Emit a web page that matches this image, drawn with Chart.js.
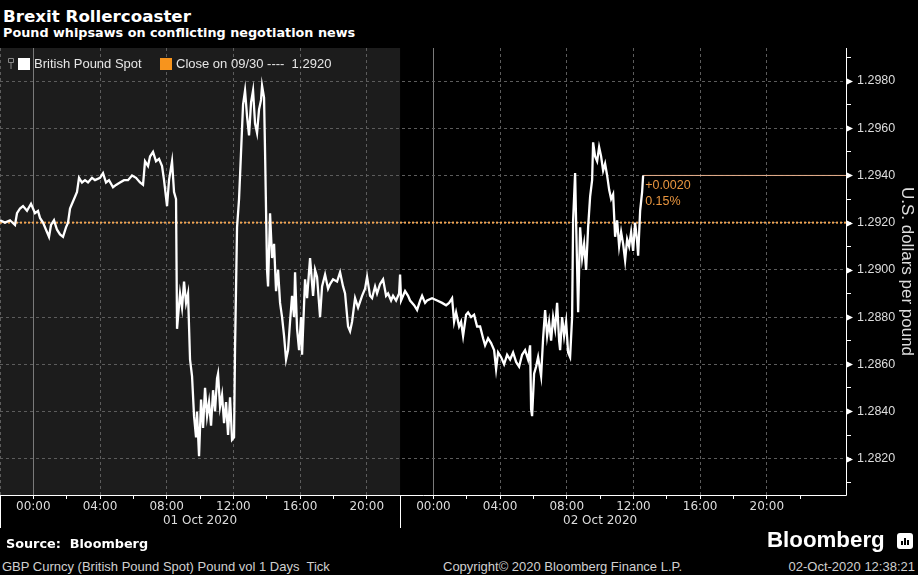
<!DOCTYPE html>
<html lang="en">
<head>
<meta charset="UTF-8">
<title>Brexit Rollercoaster</title>
<script src="https://cdn.jsdelivr.net/npm/chart.js"></script>
<style>
    body {
        margin: 0;
        background: #000;
        width: 918px;
        height: 575px;
        overflow: hidden;
        position: relative;
        color: #ddd;
        font-family: "Liberation Sans", Arial, sans-serif;
    }
    .title {
        position: absolute; left: 3px; top: 6px;
        font: bold 16.7px "DejaVu Sans", sans-serif; color: #fff; white-space: nowrap;
    }
    .subtitle {
        position: absolute; left: 3px; top: 25px;
        font: bold 12.8px "DejaVu Sans", sans-serif; color: #fff; white-space: nowrap;
    }
    #wrap { position: absolute; left: 0; top: 48px; width: 918px; height: 490px; }
    .source {
        position: absolute; left: 6px; top: 536px;
        font: bold 12.8px "DejaVu Sans", sans-serif; color: #fff; white-space: pre;
    }
    .foot {
        position: absolute; top: 559px; font-size: 13px; color: #d0d0d0; white-space: pre;
    }
    .logo {
        position: absolute; left: 767px; top: 527px;
        font: bold 22.3px "Liberation Sans", Arial, sans-serif; color: #fff;
    }
    .logo-icon {
        position: absolute; left: 897px; top: 533px; width: 16px; height: 16px;
        background: #fff; border-radius: 3px;
    }
    .logo-icon span { position: absolute; bottom: 4px; width: 2px; background: #000; }
</style>
</head>
<body>
<div class="title">Brexit Rollercoaster</div>
<div class="subtitle">Pound whipsaws on conflicting negotiation news</div>
<div id="wrap"><canvas id="chart" width="918" height="490"></canvas></div>
<div class="source">Source:  Bloomberg</div>
<div class="foot" style="left:2px">GBP Curncy (British Pound Spot) Pound vol 1 Days  Tick</div>
<div class="foot" style="left:443px">Copyright© 2020 Bloomberg Finance L.P.</div>
<div class="foot" style="right:3px">02-Oct-2020 12:38:21</div>
<div class="logo">Bloomberg</div>
<div class="logo-icon"><span style="left:4px;height:4px"></span><span style="left:7px;height:7px"></span><span style="left:10px;height:5px"></span></div>

<script>
    // hours from 00:00 on 01 Oct 2020 (London), tick prices GBP/USD
    const hours = [
        -2.00, -1.70, -1.40, -1.10, -0.98, -0.80, -0.62, -0.38, -0.14, -0.02,
        0.10, 0.28, 0.40, 0.58, 0.76, 0.94, 1.06, 1.24, 1.42, 1.60,
        1.78, 1.96, 2.08, 2.20, 2.32, 2.50, 2.62, 2.74, 2.92, 3.10,
        3.28, 3.52, 3.70, 4.00, 4.18, 4.36, 4.54, 4.78, 4.96, 5.20,
        5.44, 5.68, 5.92, 6.16, 6.40, 6.58, 6.70, 6.88, 7.00, 7.18,
        7.36, 7.54, 7.72, 7.84, 8.02, 8.14, 8.32, 8.44, 8.56, 8.62,
        8.80, 8.92, 9.04, 9.16, 9.28, 9.40, 9.52, 9.64, 9.76, 9.82,
        9.94, 10.06, 10.18, 10.30, 10.42, 10.54, 10.66, 10.78, 10.90, 11.02,
        11.08, 11.20, 11.32, 11.44, 11.56, 11.68, 11.80, 11.92, 12.04, 12.10,
        12.22, 12.34, 12.46, 12.58, 12.70, 12.82, 12.94, 13.06, 13.18, 13.30,
        13.42, 13.54, 13.66, 13.72, 13.84, 13.90, 14.02, 14.08, 14.20, 14.32,
        14.44, 14.56, 14.68, 14.80, 14.92, 15.04, 15.16, 15.28, 15.40, 15.52,
        15.64, 15.70, 15.82, 15.94, 16.06, 16.12, 16.30, 16.42, 16.60, 16.78,
        16.90, 17.02, 17.20, 17.32, 17.50, 17.68, 17.80, 17.98, 18.22, 18.40,
        18.58, 18.70, 18.88, 19.00, 19.12, 19.30, 19.48, 19.72, 19.90, 20.02,
        20.20, 20.32, 20.50, 20.62, 20.80, 20.98, 21.16, 21.28, 21.46, 21.58,
        21.76, 21.94, 22.00, 22.06, 22.30, 22.48, 22.60, 22.84, 23.02, 23.20,
        23.32, 23.50, 23.62, 23.92, 24.22, 24.52, 24.76, 24.94, 25.12, 25.24,
        25.36, 25.54, 25.66, 25.78, 25.96, 26.08, 26.26, 26.44, 26.62, 26.80,
        26.98, 27.10, 27.28, 27.46, 27.64, 27.76, 27.88, 28.06, 28.24, 28.42,
        28.60, 28.78, 28.96, 29.14, 29.32, 29.50, 29.68, 29.80, 29.86, 29.92,
        30.04, 30.16, 30.28, 30.46, 30.58, 30.70, 30.82, 30.94, 31.06, 31.18,
        31.30, 31.42, 31.54, 31.60, 31.72, 31.84, 31.96, 32.08, 32.20, 32.32,
        32.38, 32.50, 32.56, 32.68, 32.80, 32.92, 33.04, 33.16, 33.28, 33.40,
        33.52, 33.58, 33.70, 33.82, 33.94, 34.06, 34.18, 34.30, 34.42, 34.54,
        34.66, 34.78, 34.90, 35.02, 35.14, 35.26, 35.38, 35.50, 35.62, 35.74,
        35.86, 35.98, 36.10, 36.22, 36.28, 36.40, 36.52, 36.58
    ];
    const prices = [
        1.2921, 1.2920, 1.2921, 1.2919, 1.2924, 1.2926, 1.2927, 1.2925, 1.2928, 1.2926,
        1.2924, 1.2925, 1.2922, 1.2920, 1.2917, 1.2914, 1.2919, 1.2921, 1.2917, 1.2915,
        1.2914, 1.2918, 1.2920, 1.2926, 1.2928, 1.2931, 1.2933, 1.2939, 1.2937, 1.2938,
        1.2937, 1.2939, 1.2938, 1.2939, 1.2941, 1.2937, 1.2938, 1.2935, 1.2936, 1.2937,
        1.2938, 1.2938, 1.2940, 1.2939, 1.2937, 1.2936, 1.2946, 1.2944, 1.2948, 1.2950,
        1.2946, 1.2947, 1.2944, 1.2938, 1.2927, 1.2938, 1.2946, 1.2933, 1.2930, 1.2875,
        1.2890, 1.2884, 1.2895, 1.2886, 1.2890, 1.2862, 1.2855, 1.2838, 1.2829, 1.2840,
        1.2821, 1.2845, 1.2833, 1.2850, 1.2838, 1.2844, 1.2834, 1.2849, 1.2840, 1.2854,
        1.2856, 1.2842, 1.2847, 1.2835, 1.2844, 1.2830, 1.2846, 1.2828, 1.2829, 1.2867,
        1.2918, 1.2930, 1.2950, 1.2970, 1.2976, 1.2965, 1.2957, 1.2971, 1.2976, 1.2962,
        1.2958, 1.2968, 1.2972, 1.2978, 1.2973, 1.2950, 1.2900, 1.2893, 1.2924, 1.2905,
        1.2911, 1.2891, 1.2900, 1.2886, 1.2880, 1.2872, 1.2862, 1.2866, 1.2878, 1.2889,
        1.2880, 1.2899, 1.2875, 1.2866, 1.2880, 1.2864, 1.2896, 1.2888, 1.2905, 1.2889,
        1.2900, 1.2897, 1.2880, 1.2893, 1.2898, 1.2892, 1.2894, 1.2896, 1.2895, 1.2899,
        1.2893, 1.2890, 1.2876, 1.2874, 1.2878, 1.2888, 1.2884, 1.2889, 1.2892, 1.2897,
        1.2889, 1.2888, 1.2893, 1.2890, 1.2894, 1.2896, 1.2889, 1.2890, 1.2887, 1.2889,
        1.2887, 1.2890, 1.2898, 1.2887, 1.2891, 1.2889, 1.2887, 1.2885, 1.2883, 1.2887,
        1.2889, 1.2886, 1.2887, 1.2888, 1.2887, 1.2886, 1.2885, 1.2886, 1.2888, 1.2878,
        1.2882, 1.2876, 1.2878, 1.2872, 1.2881, 1.2882, 1.2880, 1.2881, 1.2876, 1.2876,
        1.2871, 1.2868, 1.2871, 1.2869, 1.2866, 1.2858, 1.2865, 1.2863, 1.2860, 1.2864,
        1.2862, 1.2865, 1.2861, 1.2859, 1.2864, 1.2866, 1.2862, 1.2868, 1.2841, 1.2838,
        1.2856, 1.2859, 1.2863, 1.2855, 1.2871, 1.2883, 1.2872, 1.2878, 1.2870, 1.2880,
        1.2875, 1.2886, 1.2870, 1.2866, 1.2880, 1.2872, 1.2878, 1.2865, 1.2863, 1.2880,
        1.2921, 1.2941, 1.2920, 1.2882, 1.2918, 1.2905, 1.2911, 1.2900, 1.2918, 1.2931,
        1.2938, 1.2954, 1.2948, 1.2946, 1.2952, 1.2948, 1.2942, 1.2945, 1.2940, 1.2934,
        1.2930, 1.2932, 1.2914, 1.2921, 1.2910, 1.2916, 1.2911, 1.2904, 1.2913, 1.2910,
        1.2916, 1.2908, 1.2920, 1.2912, 1.2906, 1.2925, 1.2933, 1.2940
    ];
    const seriesName = 'British Pound Spot';
    const closeName = 'Close on 09/30';
    const closeLevel = 1.2920;

    const hourTicks = [-2, 0, 2, 4, 6, 8, 10, 12, 14, 16, 18, 20, 22, 24, 26, 28, 30, 32, 34, 36, 38, 40, 42, 44, 46];
    const priceTicks = [1.2820, 1.2840, 1.2860, 1.2880, 1.2900, 1.2920, 1.2940, 1.2960, 1.2980];
    const minorPriceTicks = [1.2810, 1.2830, 1.2850, 1.2870, 1.2890, 1.2910, 1.2930, 1.2950, 1.2970, 1.2990];
    const dayNames = ['01 Oct 2020', '02 Oct 2020'];
    const dayCenters = [10, 34];
    const sessionBounds = [-2, 22];
    const xMin = -2, xMax = 48.75;
    const yMin = 1.28046, yMax = 1.2994;

    const lastHour = hours[hours.length - 1];
    const lastPrice = prices[prices.length - 1];

    const isMajorPrice = v => priceTicks.some(p => Math.abs(p - v) < 1e-7);
    const isLabelHour = v => v >= 0 && v % 4 === 0 && v <= 44;
    const fmtHour = v => String(((v % 24) + 24) % 24).padStart(2, '0') + ':00';

    const decor = {
        id: 'decor',
        beforeDraw(chart) {
            const { ctx, chartArea: a, scales: { x } } = chart;
            ctx.save();
            ctx.fillStyle = '#000';
            ctx.fillRect(0, 0, chart.width, chart.height);
            const x0 = x.getPixelForValue(sessionBounds[0]);
            const x1 = x.getPixelForValue(sessionBounds[1]);
            ctx.fillStyle = '#1c1c1c';
            ctx.fillRect(x0, a.top, x1 - x0, a.bottom - a.top);
            ctx.restore();
        },
        afterDraw(chart) {
            const { ctx, chartArea: a, scales: { x, y } } = chart;
            ctx.save();
            // axis lines
            ctx.strokeStyle = '#fff';
            ctx.lineWidth = 1;
            ctx.beginPath();
            ctx.moveTo(a.left, a.bottom + 0.5);
            ctx.lineTo(a.right + 0.5, a.bottom + 0.5);
            ctx.moveTo(a.right + 0.5, a.top);
            ctx.lineTo(a.right + 0.5, a.bottom + 0.5);
            sessionBounds.forEach(h => {
                const px = Math.round(x.getPixelForValue(h)) + 0.5;
                ctx.moveTo(px, a.bottom);
                ctx.lineTo(px, a.bottom + 33);
            });
            ctx.stroke();

            // arrow ticks on the price axis
            ctx.fillStyle = '#fff';
            priceTicks.forEach(p => {
                const py = Math.round(y.getPixelForValue(p)) + 0.5;
                ctx.beginPath();
                ctx.moveTo(a.right, py - 3.5);
                ctx.lineTo(a.right + 7, py);
                ctx.lineTo(a.right, py + 3.5);
                ctx.closePath();
                ctx.fill();
            });

            // day labels
            ctx.fillStyle = '#ddd';
            ctx.font = '12px "DejaVu Sans"';
            ctx.textAlign = 'center';
            ctx.textBaseline = 'middle';
            dayNames.forEach((d, i) => ctx.fillText(d, x.getPixelForValue(dayCenters[i]), a.bottom + 26));

            // legend
            const ly = a.top + 16;
            ctx.strokeStyle = '#888';
            ctx.beginPath();
            ctx.rect(8.5, ly - 5.5, 5, 4);
            ctx.moveTo(11, ly - 1.5);
            ctx.lineTo(11, ly + 5);
            ctx.stroke();
            ctx.fillStyle = '#fff';
            ctx.fillRect(18, ly - 6, 12, 12);
            ctx.font = '13px "Liberation Sans"';
            ctx.textAlign = 'left';
            ctx.fillStyle = '#e6e6e6';
            ctx.fillText(seriesName, 34, ly);
            ctx.fillStyle = '#f7941d';
            ctx.fillRect(160, ly - 6, 12, 12);
            ctx.fillStyle = '#e6e6e6';
            ctx.fillText(closeName + ' ----  ' + closeLevel.toFixed(4), 176, ly);

            // change annotation
            const chg = lastPrice - closeLevel;
            const pct = chg / closeLevel * 100;
            const ax = x.getPixelForValue(lastHour) + 2;
            const ay = y.getPixelForValue(lastPrice);
            ctx.fillStyle = '#e8953f';
            ctx.font = '12.5px "Liberation Sans"';
            ctx.fillText((chg >= 0 ? '+' : '') + chg.toFixed(4), ax, ay + 10);
            ctx.fillText(pct.toFixed(2) + '%', ax, ay + 26);
            ctx.restore();
        }
    };

    new Chart(document.getElementById('chart'), {
        type: 'line',
        data: {
            datasets: [
                {
                    label: seriesName,
                    data: hours.map((h, i) => ({ x: h, y: prices[i] })),
                    borderColor: '#fff',
                    borderWidth: 2.3,
                    pointRadius: 0,
                    tension: 0
                },
                {
                    label: 'last',
                    data: [{ x: lastHour, y: lastPrice }, { x: xMax, y: lastPrice }],
                    borderColor: '#e9b18e',
                    borderWidth: 1,
                    pointRadius: 0
                },
                {
                    label: closeName,
                    data: [{ x: xMin, y: closeLevel }, { x: xMax, y: closeLevel }],
                    borderColor: '#f2a552',
                    borderWidth: 2,
                    borderDash: [2, 2],
                    pointRadius: 0
                }
            ]
        },
        options: {
            responsive: false,
            animation: false,
            devicePixelRatio: 1,
            layout: { padding: 0 },
            plugins: { legend: { display: false }, tooltip: { enabled: false } },
            scales: {
                x: {
                    type: 'linear',
                    position: 'bottom',
                    min: xMin,
                    max: xMax,
                    afterBuildTicks: s => { s.ticks = hourTicks.map(v => ({ value: v })); },
                    afterFit: s => { s.height = 43; s.paddingLeft = 0; s.paddingRight = 0; },
                    grid: {
                        color: c => c.tick && (c.tick.value === -2 || c.tick.value % 4 === 0)
                            ? (c.tick.value % 24 === 0 ? '#7a7a7a' : '#5c5c5c') : 'transparent',
                        lineWidth: 1,
                        tickColor: '#fff',
                        tickLength: 4
                    },
                    border: {
                        display: false,
                        dash: c => c.tick && c.tick.value % 24 === 0 ? [] : [3, 3]
                    },
                    ticks: {
                        autoSkip: false,
                        maxRotation: 0,
                        minRotation: 0,
                        padding: 1,
                        color: '#ddd',
                        font: { family: 'DejaVu Sans', size: 12 },
                        callback: v => isLabelHour(v) ? fmtHour(v) : ''
                    }
                },
                y: {
                    type: 'linear',
                    position: 'right',
                    min: yMin,
                    max: yMax,
                    afterBuildTicks: s => {
                        s.ticks = priceTicks.concat(minorPriceTicks).sort((a, b) => a - b).map(v => ({ value: v }));
                    },
                    afterFit: s => { s.width = 72; s.paddingTop = 0; s.paddingBottom = 0; },
                    grid: {
                        color: c => c.tick && isMajorPrice(c.tick.value) ? '#5c5c5c' : 'transparent',
                        lineWidth: 1,
                        tickColor: '#fff',
                        tickLength: 5
                    },
                    border: { display: false, dash: [3, 3] },
                    ticks: {
                        autoSkip: false,
                        padding: 6,
                        color: '#ddd',
                        font: { family: 'Liberation Sans', size: 12.5 },
                        callback: v => isMajorPrice(v) ? v.toFixed(4) : ''
                    },
                    title: {
                        display: true,
                        text: 'U.S. dollars per pound',
                        color: '#ddd',
                        font: { family: 'Liberation Sans', size: 17 },
                        padding: { top: 1, bottom: 0 }
                    }
                }
            }
        },
        plugins: [decor]
    });
</script>
</body>
</html>
